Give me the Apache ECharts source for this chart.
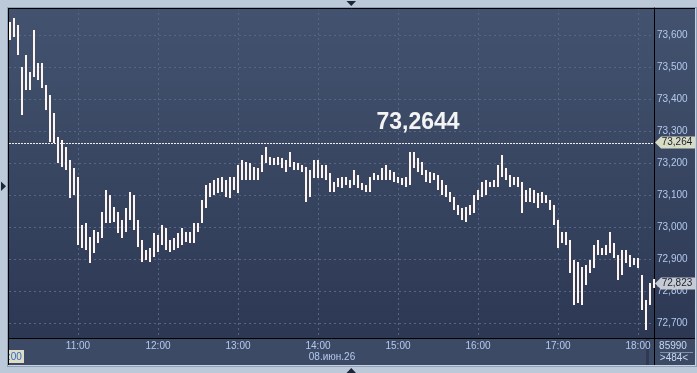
<!DOCTYPE html>
<html>
<head>
<meta charset="utf-8">
<script src="https://cdn.jsdelivr.net/npm/echarts@6/dist/echarts.min.js"></script>
<style>
    * { margin: 0; padding: 0; }
    body { background: #bcc9d9; }
    #main { width: 697px; height: 373px; }
</style>
</head>
<body>
<div id="main"></div>
<script>
// minute bars, every 3 minutes from 10:09 (minutes after midnight)
var firstTime = 609;
var stepMin = 3;

var highs = [
    73.641,73.653,73.631,73.500,73.538,73.484,73.616,73.513,73.513,73.444,
    73.413,73.356,73.281,73.272,73.250,73.209,73.184,73.156,73.006,73.013,
    72.969,72.991,72.984,73.047,73.116,73.100,73.063,73.047,73.022,73.059,
    73.109,73.100,73.022,72.959,72.928,72.934,72.981,72.975,73.006,72.997,
    72.959,72.966,72.981,72.997,72.984,72.984,73.013,73.013,73.084,73.131,
    73.138,73.147,73.153,73.156,73.147,73.156,73.156,73.194,73.209,73.203,
    73.200,73.188,73.184,73.225,73.250,73.219,73.216,73.219,73.216,73.209,
    73.234,73.203,73.200,73.194,73.188,73.178,73.209,73.209,73.194,73.194,
    73.169,73.141,73.153,73.156,73.156,73.147,73.178,73.163,73.138,73.131,
    73.156,73.169,73.163,73.184,73.194,73.178,73.172,73.156,73.153,73.156,
    73.234,73.234,73.216,73.203,73.178,73.172,73.169,73.163,73.147,73.131,
    73.109,73.094,73.069,73.059,73.063,73.069,73.100,73.116,73.141,73.147,
    73.141,73.147,73.194,73.225,73.184,73.163,73.156,73.156,73.141,73.116,
    73.122,73.116,73.106,73.109,73.100,73.084,73.069,73.022,72.984,72.984,
    72.959,72.897,72.891,72.875,72.881,72.897,72.944,72.959,72.934,72.944,
    72.984,72.950,72.913,72.928,72.928,72.913,72.903,72.903,72.850,72.772,
    72.825,72.838
];

var lows = [
    73.584,73.594,73.538,73.350,73.428,73.428,73.469,73.459,73.434,73.366,
    73.266,73.263,73.200,73.188,73.178,73.091,73.100,72.944,72.934,72.928,
    72.888,72.919,72.950,72.966,73.013,73.013,73.016,72.981,72.966,72.984,
    73.022,72.991,72.938,72.891,72.897,72.891,72.906,72.922,72.944,72.928,
    72.922,72.928,72.934,72.944,72.953,72.950,72.950,72.984,73.013,73.059,
    73.094,73.100,73.106,73.109,73.094,73.091,73.116,73.106,73.147,73.147,
    73.147,73.147,73.147,73.172,73.200,73.194,73.194,73.194,73.184,73.172,
    73.188,73.178,73.178,73.172,73.078,73.094,73.153,73.153,73.153,73.147,
    73.109,73.109,73.125,73.122,73.131,73.122,73.131,73.122,73.116,73.109,
    73.109,73.147,73.147,73.147,73.147,73.147,73.141,73.138,73.131,73.125,
    73.131,73.184,73.172,73.163,73.141,73.138,73.147,73.116,73.100,73.094,
    73.078,73.053,73.038,73.022,73.016,73.038,73.044,73.084,73.094,73.100,
    73.125,73.125,73.125,73.156,73.147,73.125,73.131,73.125,73.044,73.078,
    73.078,73.075,73.059,73.075,73.075,73.053,73.006,72.934,72.950,72.944,
    72.856,72.756,72.763,72.756,72.819,72.856,72.872,72.913,72.913,72.913,
    72.919,72.903,72.834,72.850,72.888,72.875,72.881,72.872,72.741,72.678,
    72.756,72.809
];

var lastPrice = 72.823;
var markPrice = 73.264;
var markText = '73,2644';

var hourTicks = [660, 720, 780, 840, 900, 960, 1020, 1080];
var priceTicks = [72.7, 72.8, 72.9, 73.0, 73.1, 73.2, 73.3, 73.4, 73.5, 73.6];
var dateText = '08.июн.26';

var xMin = 608.25, xMax = 1092;
var yMin = 72.653, yMax = 73.684;

function fmtPrice(v) {
    return v.toFixed(3).replace('.', ',');
}
function fmtHour(v) {
    var h = Math.floor(v / 60);
    var m = Math.round(v % 60);
    return (h < 10 ? '0' : '') + h + ':' + (m < 10 ? '0' : '') + m;
}

var barData = [];
for (var i = 0; i < highs.length; i++) {
    barData.push([firstTime + i * stepMin, highs[i], lows[i]]);
}

var labelColor = '#b3caee';
var font = 'Liberation Sans';
var tagShape = 'path://M0,6L6,0L40,0L40,12L6,12Z';

var myChart = echarts.init(document.getElementById('main'));

var option = {
    animation: false,
    backgroundColor: '#bcc9d9',
    textStyle: {fontFamily: font},
    grid: {
        left: 9, right: 43, top: 8, bottom: 35,
        outerBoundsMode: 'none',
        containLabel: false
    },
    xAxis: {
        type: 'value',
        min: xMin,
        max: xMax,
        axisLine: {show: true, lineStyle: {color: '#000', width: 1}},
        axisTick: {show: false, customValues: hourTicks},
        axisLabel: {
            customValues: hourTicks,
            formatter: fmtHour,
            color: labelColor,
            fontSize: 10,
            fontFamily: font,
            margin: 3
        },
        splitLine: {show: true, lineStyle: {color: '#566786', type: [2, 3], width: 1}}
    },
    yAxis: {
        type: 'value',
        position: 'right',
        min: yMin,
        max: yMax,
        axisLine: {show: true, lineStyle: {color: '#000', width: 1}},
        axisTick: {show: false, customValues: priceTicks},
        axisLabel: {
            customValues: priceTicks,
            formatter: fmtPrice,
            color: labelColor,
            fontSize: 10,
            fontFamily: font,
            margin: 3
        },
        splitLine: {show: true, lineStyle: {color: '#566786', type: [2, 3], width: 1}}
    },
    series: [
        {
            // high-low bar for each time step
            type: 'custom',
            data: barData,
            encode: {x: 0, y: [1, 2]},
            z: 3,
            renderItem: function (params, api) {
                var hi = api.coord([api.value(0), api.value(1)]);
                var lo = api.coord([api.value(0), api.value(2)]);
                return {
                    type: 'rect',
                    shape: {
                        x: Math.round(hi[0]) - 1,
                        y: Math.round(hi[1]),
                        width: 2,
                        height: Math.max(Math.round(lo[1] - hi[1]), 2)
                    },
                    style: {fill: '#fff4ee'}
                };
            }
        },
        {
            type: 'line',
            data: [],
            showSymbol: false,
            markLine: {
                silent: true,
                symbol: 'none',
                label: {show: false},
                lineStyle: {color: '#eeeeee', type: [2, 1], width: 1},
                data: [{yAxis: markPrice}]
            },
            markPoint: {
                silent: true,
                data: [
                    {
                        coord: [915, markPrice],
                        symbol: 'circle',
                        symbolSize: 0,
                        label: {
                            show: true,
                            formatter: markText,
                            color: '#f4f4f4',
                            fontSize: 23,
                            fontWeight: 'bold',
                            fontFamily: font,
                            offset: [0, -20]
                        }
                    },
                    {
                        coord: [xMax, markPrice],
                        symbol: tagShape,
                        symbolSize: [40, 12],
                        symbolKeepAspect: false,
                        symbolOffset: [21, 0],
                        itemStyle: {color: '#d8dcc4'},
                        label: {
                            show: true,
                            position: 'inside',
                            formatter: fmtPrice(markPrice),
                            color: '#1a1f2e',
                            fontSize: 10,
                            fontFamily: font,
                            offset: [2, 0]
                        }
                    },
                    {
                        coord: [xMax, lastPrice],
                        symbol: tagShape,
                        symbolSize: [40, 12],
                        symbolKeepAspect: false,
                        symbolOffset: [21, 0],
                        itemStyle: {color: '#c6cad2'},
                        label: {
                            show: true,
                            position: 'inside',
                            formatter: fmtPrice(lastPrice),
                            color: '#1a1f2e',
                            fontSize: 10,
                            fontFamily: font,
                            offset: [2, 0]
                        }
                    }
                ]
            }
        }
    ],
    graphic: [
        // panel background
        {type: 'rect', z: -20, shape: {x: 7, y: 7, width: 690, height: 360}, style: {fill: '#8f9fb6'}},
        {type: 'rect', z: -19, shape: {x: 8, y: 8, width: 688, height: 358}, style: {fill: '#c7d3e1'}},
        {type: 'rect', z: -18, shape: {x: 8, y: 8, width: 687, height: 357},
            style: {fill: new echarts.graphic.LinearGradient(0, 0, 0, 1, [
                {offset: 0, color: '#43536f'},
                {offset: 1, color: '#2b3651'}
            ])}},
        {type: 'rect', z: -17, shape: {x: 8, y: 339, width: 687, height: 26}, style: {fill: '#3d4a66'}},
        {type: 'rect', z: -16, shape: {x: 646, y: 339, width: 3, height: 26}, style: {fill: '#2f3a52'}},
        // borders
        {type: 'line', z: 5, shape: {x1: 8, y1: 8.5, x2: 695, y2: 8.5}, style: {stroke: '#000', lineWidth: 1}},
        {type: 'line', z: 5, shape: {x1: 8.5, y1: 8, x2: 8.5, y2: 365}, style: {stroke: '#000', lineWidth: 1}},
        {type: 'line', z: 5, shape: {x1: 654, y1: 338.5, x2: 695, y2: 338.5}, style: {stroke: '#000', lineWidth: 1}},
        {type: 'line', z: 5, shape: {x1: 654.5, y1: 338, x2: 654.5, y2: 365}, style: {stroke: '#000', lineWidth: 1}},
        // date under axis
        {type: 'text', z: 5, x: 332, y: 357,
            style: {text: dateText, fill: labelColor, font: '10px "Liberation Sans"', align: 'center', verticalAlign: 'middle'}},
        // left corner time box
        {type: 'rect', z: 5, shape: {x: 9, y: 350, width: 15, height: 13}, style: {fill: '#dedbc6'}},
        {type: 'text', z: 6, x: 8, y: 357,
            style: {text: ':00', fill: '#2c6cc4', font: '10px "Liberation Sans"', verticalAlign: 'middle'}},
        // right bottom counters
        {type: 'text', z: 5, x: 673, y: 346,
            style: {text: '85990', fill: '#c9d8f0', font: '10px "Liberation Sans"', align: 'center', verticalAlign: 'middle'}},
        {type: 'line', z: 5, shape: {x1: 660, y1: 352.5, x2: 693, y2: 352.5}, style: {stroke: '#7e8fab', lineWidth: 1}},
        {type: 'text', z: 5, x: 674, y: 358,
            style: {text: '>484<', fill: '#c9d8f0', font: '10px "Liberation Sans"', align: 'center', verticalAlign: 'middle'}},
        // scroll arrows
        {type: 'polygon', z: 5, shape: {points: [[346.5, 1], [356, 1], [351.3, 6]]}, style: {fill: '#1d2638'}},
        {type: 'polygon', z: 5, shape: {points: [[346.5, 373], [356, 373], [351.3, 368]]}, style: {fill: '#1d2638'}},
        {type: 'polygon', z: 5, shape: {points: [[1, 181.5], [1, 191], [6, 186.3]]}, style: {fill: '#1d2638'}}
    ]
};

myChart.setOption(option);
</script>
</body>
</html>
